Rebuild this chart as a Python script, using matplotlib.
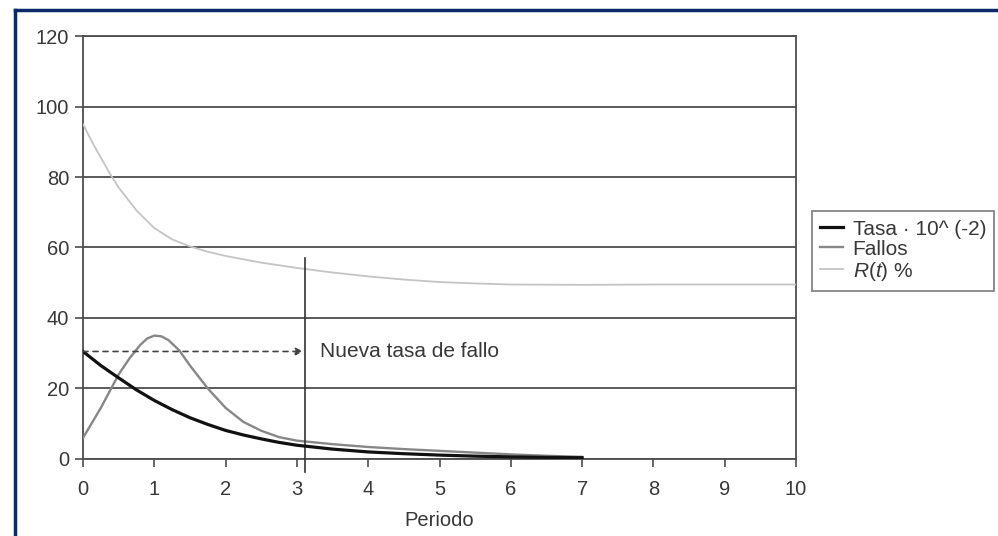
#!/usr/bin/env python3
"""Tasa de fallo, fallos y fiabilidad R(t) por periodo."""

import matplotlib
matplotlib.use("Agg")
import matplotlib.pyplot as plt
from matplotlib.lines import Line2D

plt.rcParams["font.family"] = ["Liberation Sans", "DejaVu Sans"]
plt.rcParams["mathtext.fontset"] = "custom"
plt.rcParams["mathtext.it"] = "Liberation Sans:italic"
plt.rcParams["mathtext.rm"] = "Liberation Sans"

# datos
tasa_x = [0, 0.25, 0.5, 0.75, 1, 1.25, 1.5, 1.75, 2, 2.25, 2.5, 2.75, 3,
          3.5, 4, 4.5, 5, 5.5, 6, 6.5, 7]
tasa_y = [30.5, 26.5, 23.0, 19.6, 16.6, 14.0, 11.7, 9.8, 8.1, 6.8, 5.7, 4.7, 3.9,
          2.8, 2.0, 1.5, 1.1, 0.8, 0.6, 0.45, 0.35]

fallos_x = [0, 0.25, 0.5, 0.65, 0.8, 0.9, 1, 1.1, 1.2, 1.35, 1.5, 1.75, 2, 2.25,
            2.5, 2.75, 3, 3.5, 4, 4.5, 5, 5.5, 6, 6.5, 7]
fallos_y = [6, 14.5, 24, 28.5, 32.3, 34.2, 35, 34.8, 33.7, 30.8, 26.5, 20, 14.5, 10.5,
            8, 6.2, 5.2, 4.2, 3.4, 2.8, 2.3, 1.8, 1.3, 0.9, 0.6]

rt_x = [0, 0.125, 0.25, 0.375, 0.5, 0.75, 1, 1.25, 1.5, 1.75, 2, 2.5, 3, 3.5,
        4, 4.5, 5, 5.5, 6, 7, 8, 9, 10]
rt_y = [95, 90, 85.5, 81, 77, 70.5, 65.5, 62.3, 60.3, 58.8, 57.6, 55.7, 54.2, 52.9,
        51.8, 50.9, 50.2, 49.8, 49.5, 49.4, 49.5, 49.5, 49.5]

nueva_tasa = 30.5
periodo_corte = 3.12
x_ticks = list(range(0, 11))
y_ticks = list(range(0, 121, 20))

fig = plt.figure(figsize=(9.98, 5.36), dpi=100)
ax = fig.add_axes([0.0832, 0.1437, 0.7144, 0.7891])

grid_color = "#4d4d4d"
text_color = "#383838"
for value in y_ticks:
    ax.axhline(value, color=grid_color, linewidth=1.3, zorder=1)

ax.plot(rt_x, rt_y, color="#c4c4c4", linewidth=1.3, zorder=3,
        label=r"$\mathit{R}$($\mathit{t}$) %")
ax.plot(fallos_x, fallos_y, color="#878787", linewidth=1.7, zorder=4, label="Fallos")
ax.plot(tasa_x, tasa_y, color="#111111", linewidth=2.3, zorder=5,
        label="Tasa · 10^ (-2)")

# linea vertical del periodo de corte
ax.plot([periodo_corte, periodo_corte], [-3.7, 57], color="#333333",
        linewidth=1.2, clip_on=False, zorder=4)
ax.annotate("", xy=(periodo_corte - 0.03, nueva_tasa), xytext=(0, nueva_tasa),
            arrowprops={"arrowstyle": "-|>", "linestyle": (0, (3, 3)),
                        "color": "#444444", "linewidth": 1.2,
                        "mutation_scale": 11, "shrinkA": 0, "shrinkB": 0},
            zorder=5)
ax.text(periodo_corte + 0.2, nueva_tasa, "Nueva tasa de fallo", fontsize=15,
        color=text_color, va="center", ha="left")

ax.set_xlim(0, 10)
ax.set_ylim(0, 120)
ax.set_xticks(x_ticks)
ax.set_yticks(y_ticks)
ax.tick_params(axis="both", direction="out", length=6, width=1.2,
               color=grid_color, labelsize=14.5, labelcolor=text_color)
ax.tick_params(axis="y", pad=4)
ax.tick_params(axis="x", pad=9)
for spine in ax.spines.values():
    spine.set_color(grid_color)
    spine.set_linewidth(1.3)
ax.set_xlabel("Periodo", fontsize=14.5, color=text_color, labelpad=9)

handles, labels = ax.get_legend_handles_labels()
leg = fig.legend(handles[::-1], labels[::-1], loc="lower left",
                 bbox_to_anchor=(0.8136, 0.457), fontsize=15,
                 frameon=True, fancybox=False, edgecolor="#666666",
                 handlelength=1.1, handletextpad=0.45, borderpad=0.4,
                 labelspacing=0.05, borderaxespad=0)
leg.get_frame().set_linewidth(1.3)
for text in leg.get_texts():
    text.set_color(text_color)

# marco azul del recuadro
border = "#0b2a6b"
fig.add_artist(Line2D([0.0155, 1.0], [0.981, 0.981], color=border, linewidth=2.5,
                      transform=fig.transFigure))
fig.add_artist(Line2D([0.0155, 0.0155], [0.0, 0.981], color=border, linewidth=2.5,
                      transform=fig.transFigure))

fig.savefig("out.png", dpi=100)
